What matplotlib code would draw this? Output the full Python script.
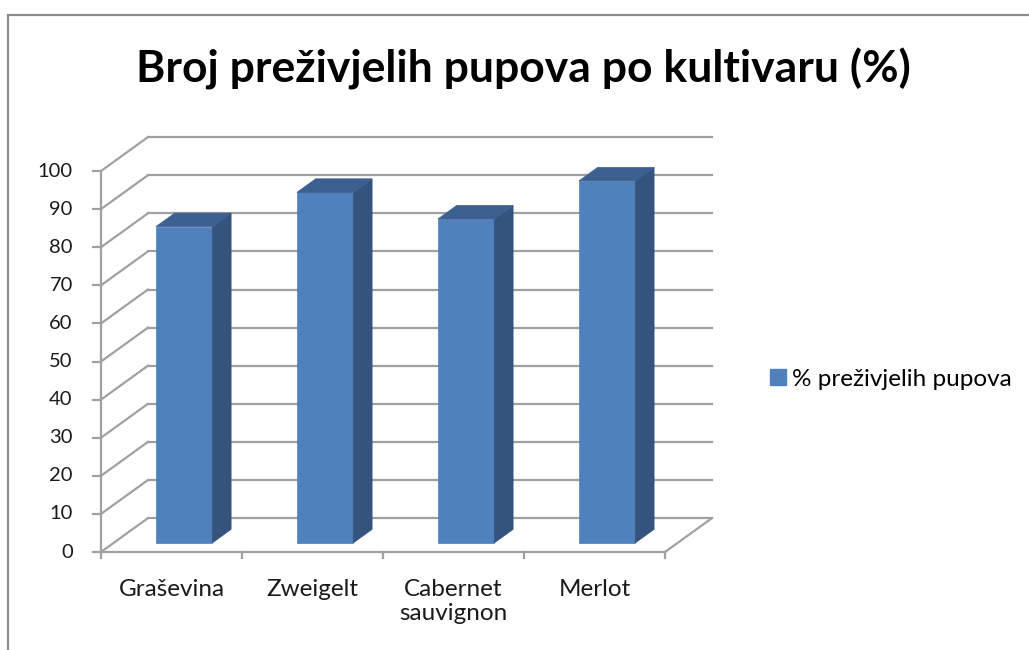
#plot.py: survived buds per cultivar, Excel-style 3D column chart

import matplotlib.pyplot as plt
from matplotlib.patches import Polygon, Rectangle, Patch

plt.rcParams['font.family'] = ['Lato', 'DejaVu Sans']

#data
cultivars = ["Graševina", "Zweigelt", "Cabernet\nsauvignon", "Merlot"]
survived = [83, 92, 85, 95]
yticks = list(range(0, 101, 10))

#colours
front_c = "#4F81BD"
side_c = "#34547E"
top_c = "#3C6191"
grid_c = "#A0A0A0"
text_c = "#1a1a1a"

#3d projection offsets (depth 0 = front, 1 = back wall)
DX = 0.333
DY = 8.9
z0, z1 = 0.27, 0.67
bw = 0.4

def proj(x, y, z):
    return (x + z * DX, y + z * DY)

fig = plt.figure(figsize=(10.29, 6.5), dpi=100)
ax = fig.add_axes([0.0570, 0.1155, 0.6577, 0.6917])
ax.set_xlim(-0.3, 4.5)
ax.set_ylim(-6, 112)
ax.axis("off")

n = len(cultivars)

#back wall and side wall gridlines
for v in yticks:
    x0, y0 = proj(0, v, 1)
    x1, y1 = proj(n, v, 1)
    ax.plot([x0, x1], [y0, y1], color=grid_c, lw=1.6, zorder=1)
    ax.plot([0, x0], [v, y0], color=grid_c, lw=1.6, zorder=1)
    ax.plot([0, -0.057], [v, v], color=grid_c, lw=1.6, zorder=1)
    ax.text(-0.2, v, str(v), ha="right", va="center", fontsize=14.5, color=text_c)

#floor right edge, axes
xr, yr = proj(n, 0, 1)
ax.plot([n, xr], [0, yr], color=grid_c, lw=1.6, zorder=1)
ax.plot([0, n], [0, 0], color=grid_c, lw=1.6, zorder=1)
ax.plot([0, 0], [0, 100], color=grid_c, lw=1.6, zorder=1)
for i in range(n + 1):
    ax.plot([i, i], [0, -1.6], color=grid_c, lw=1.6, zorder=1)

#bars
for i, (name, v) in enumerate(zip(cultivars, survived)):
    c = i + 0.5
    xl, yb = proj(c - bw / 2, 0, z0)
    xrt, _ = proj(c + bw / 2, 0, z0)
    xb, yb1 = proj(c + bw / 2, 0, z1)
    ax.add_patch(Rectangle((xl, yb), xrt - xl, v, facecolor=front_c,
                           edgecolor=front_c, lw=0.5, zorder=3))
    ax.add_patch(Polygon([(xrt, yb), (xb, yb1), (xb, v + yb1), (xrt, v + yb)],
                         closed=True, facecolor=side_c, edgecolor=side_c,
                         lw=0.5, zorder=3))
    xl1, _ = proj(c - bw / 2, 0, z1)
    ax.add_patch(Polygon([(xl, v + yb), (xrt, v + yb), (xb, v + yb1), (xl1, v + yb1)],
                         closed=True, facecolor=top_c, edgecolor=top_c,
                         lw=0.5, zorder=3))
    for k, line in enumerate(name.split("\n")):
        ax.text(c, -11.6 - k * 6.3, line, ha="center", va="baseline",
                fontsize=17.5, color=text_c)

#title
fig.text(0.509, 1 - 82 / 650, "Broj preživjelih pupova po kultivaru (%)",
         ha="center", va="baseline", fontsize=32, fontweight="bold")

#legend
fig.legend(handles=[Patch(facecolor=front_c, edgecolor=front_c)],
           labels=["% preživjelih pupova"], loc="center left",
           bbox_to_anchor=(770 / 1029, 1 - 379 / 650), frameon=False,
           fontsize=17.5, handlelength=0.66, handleheight=0.6,
           handletextpad=0.25, borderpad=0, borderaxespad=0)

#chart border
fig.add_artist(Rectangle((8 / 1029, -0.1), 1.2, 1.1 - 15 / 650,
                         transform=fig.transFigure, fill=False,
                         edgecolor="#8c8c8c", lw=1.6))

plt.savefig("out.png", dpi=100)
